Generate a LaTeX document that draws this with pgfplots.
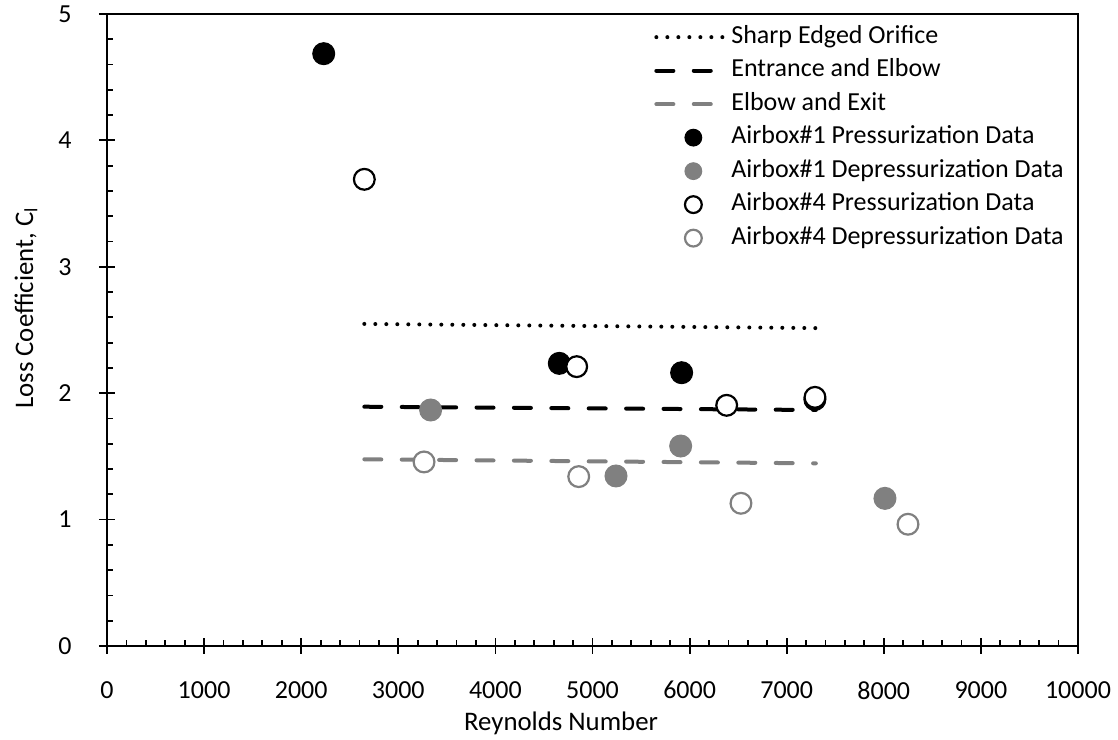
\documentclass[border=0pt]{standalone}
\usepackage{fontspec}
\setmainfont{Carlito}
\usepackage{pgfplots}
\pgfplotsset{compat=1.18}

\definecolor{midgray}{RGB}{128,128,128}

\newcommand{\lblfont}{\fontsize{13}{15.6}\selectfont}
\newcommand{\titlefont}{\fontsize{13.4}{16}\selectfont}

\pgfplotsset{
  lossframe/.style={
    scale only axis,
    width=485.5pt, height=316pt,
    xmin=0, xmax=10000, ymin=0, ymax=5,
    xtick={0,1000,...,10000}, ytick={0,1,...,5},
    minor x tick num=4, minor y tick num=4,
    tick pos=left,
    scaled x ticks=false,
    tick style={black, line width=0.9pt},
  },
  lineimg/.style={legend image code/.code={
    \draw[##1] (0pt,0pt) -- (36.5pt,0pt);
    \path[draw=none] (0pt,0pt) -- (37.5pt,0pt);}},
  markimg/.style={legend image code/.code={
    \path[draw=none] (0pt,0pt) -- (37.5pt,0pt);
    \draw[##1, mark size=4.2pt] plot coordinates {(18.5pt,0pt)};}},
}

% Loss coefficient measurements
\begin{document}
\begin{tikzpicture}
\begin{axis}[
  name=ax,
  lossframe,
  tick align=center,
  major tick length=8pt, minor tick length=0pt,
  axis line style={line width=1.2pt},
  /pgf/number format/assume math mode=true,
  /pgf/number format/1000 sep={},
  ticklabel style={font=\lblfont},
  xticklabel style={inner sep=0pt, yshift=-13.5pt},
  yticklabel style={inner sep=0pt, xshift=-13.5pt},
  xlabel={Reynolds Number},
  ylabel={Loss Coefficient, C\textsubscript{l}},
  label style={font=\titlefont},
  xlabel style={at={(axis description cs:0.4676,-0.1345)}, anchor=base, inner sep=0pt},
  ylabel style={at={(axis description cs:-0.0762,0.5348)}, anchor=base, inner sep=0pt},
  legend style={draw=none, fill=none, at={(axis description cs:0.5633,0.983)},
    anchor=north west, font=\lblfont, row sep=4.75pt, inner sep=0pt,
    nodes={inner sep=0pt, text height=9pt, text depth=3pt}},
  legend cell align=left,
]

% correlation lines
\addplot[black, line width=2pt, line cap=round, dash pattern=on 0pt off 5.5pt, lineimg]
  coordinates {(2650,2.548) (7300,2.515)};
\addlegendentry{Sharp Edged Orifice}

\addplot[black, line width=2pt, line cap=round, dash pattern=on 8.5pt off 10.2pt, lineimg]
  coordinates {(2650,1.893) (7300,1.867)};
\addlegendentry{Entrance and Elbow}

\addplot[midgray, line width=2pt, line cap=round, dash pattern=on 8.5pt off 10.2pt, lineimg]
  coordinates {(2650,1.477) (7300,1.445)};
\addlegendentry{Elbow and Exit}

% measured data
\addplot[only marks, mark=*, mark size=5.5pt,
  mark options={draw=black, fill=black, line width=0.5pt, solid}, markimg]
  coordinates {(2232,4.686) (4658,2.236) (5918,2.162) (7290,1.950)};
\addlegendentry{Airbox\#1 Pressurization Data}

\addplot[only marks, mark=*, mark size=5.5pt,
  mark options={draw=midgray, fill=midgray, line width=0.5pt, solid}, markimg]
  coordinates {(3333,1.867) (5242,1.345) (5908,1.582) (8012,1.168)};
\addlegendentry{Airbox\#1 Depressurization Data}

\addplot[only marks, mark=*, mark size=5.2pt,
  mark options={draw=black, fill=white, line width=1.1pt, solid}, markimg]
  coordinates {(2650,3.692) (4837,2.210) (6382,1.904) (7291,1.967)};
\addlegendentry{Airbox\#4 Pressurization Data}

\addplot[only marks, mark=*, mark size=5.2pt,
  mark options={draw=midgray, fill=white, line width=1.1pt, solid}, markimg]
  coordinates {(3265,1.456) (4858,1.340) (6529,1.129) (8249,0.963)};
\addlegendentry{Airbox\#4 Depressurization Data}

\end{axis}

% inward minor ticks on the same frame
\begin{axis}[
  lossframe,
  tick align=inside,
  major tick length=0pt, minor tick length=3pt,
  axis line style={draw=none},
  xticklabels={}, yticklabels={},
]
\end{axis}

\pgfresetboundingbox
\path ([shift={(-53.5pt,-47pt)}]ax.south west) rectangle ([shift={(20pt,7pt)}]ax.north east);
\end{tikzpicture}
\end{document}
